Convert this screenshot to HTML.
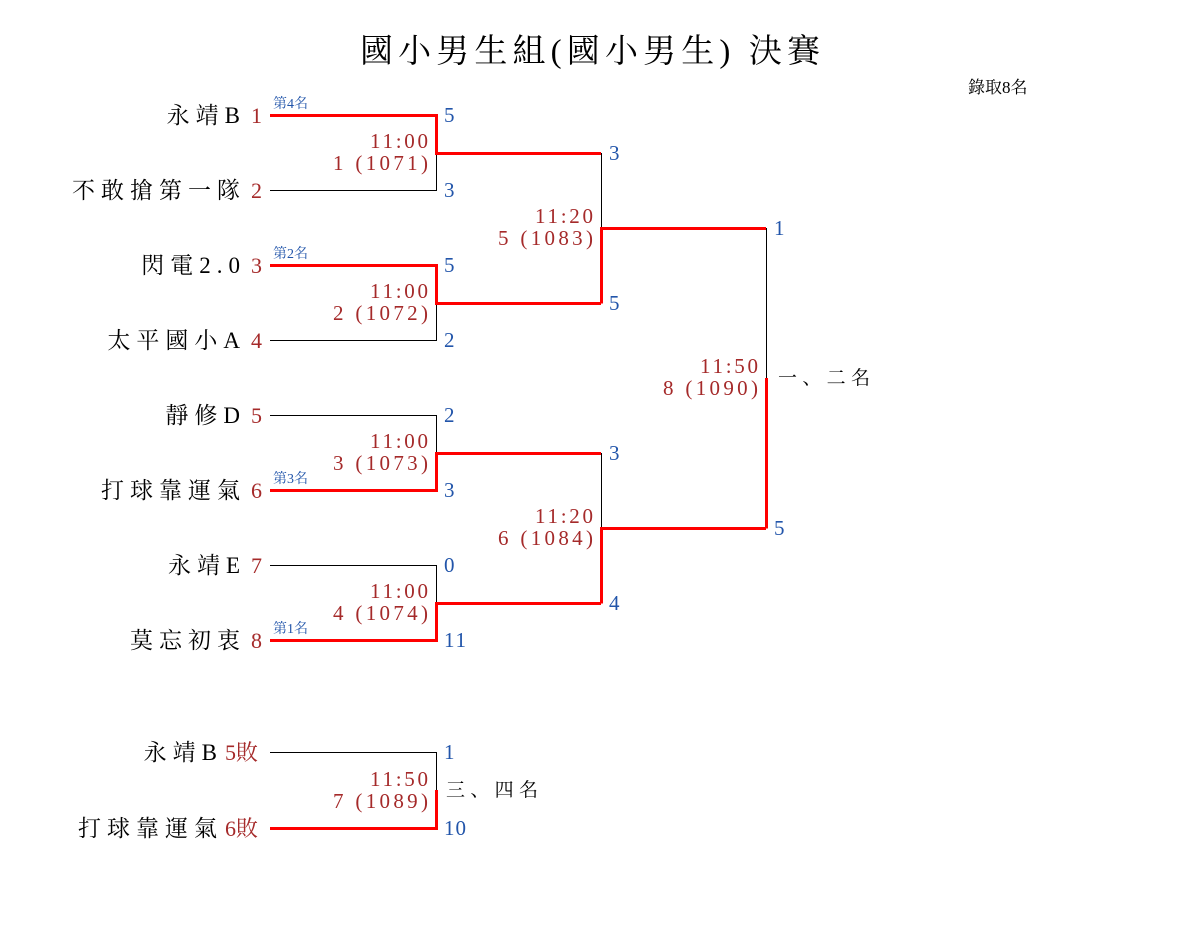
<!DOCTYPE html>
<html><head><meta charset="utf-8"><style>
html,body{margin:0;padding:0;background:#fff;}
svg{display:block;}
text{font-family:"Liberation Serif","Noto Serif CJK SC",serif;}
.n{font-size:23px;fill:#000;text-anchor:end;letter-spacing:6px;}
.s{font-size:22px;fill:#a52a2a;}
.b{font-size:21px;fill:#2255aa;}
.t{font-size:21px;fill:#a52a2a;text-anchor:end;}
.r{font-size:14px;fill:#2255aa;}
.k{stroke:#000;stroke-width:1;fill:none;}
.w{stroke:#f00;stroke-width:3;fill:none;}
</style></head><body>
<svg width="1180" height="950" viewBox="0 0 1180 950" xmlns="http://www.w3.org/2000/svg">
<text x="590" y="62" font-size="33" text-anchor="middle" textLength="460" lengthAdjust="spacing">國小男生組(國小男生) 決賽</text>
<text x="968" y="93" font-size="17">錄取8名</text>

<text class="n" x="246" y="123">永靖B</text><text class="s" x="251" y="123">1</text>
<text class="n" x="246" y="198">不敢搶第一隊</text><text class="s" x="251" y="198">2</text>
<text class="n" x="246" y="273">閃電2.0</text><text class="s" x="251" y="273">3</text>
<text class="n" x="246" y="348">太平國小A</text><text class="s" x="251" y="348">4</text>
<text class="n" x="246" y="423">靜修D</text><text class="s" x="251" y="423">5</text>
<text class="n" x="246" y="498">打球靠運氣</text><text class="s" x="251" y="498">6</text>
<text class="n" x="246" y="573">永靖E</text><text class="s" x="251" y="573">7</text>
<text class="n" x="246" y="648">莫忘初衷</text><text class="s" x="251" y="648">8</text>
<text class="n" x="223" y="760">永靖B</text><text class="s" x="225" y="760" font-size="19">5敗</text>
<text class="n" x="223" y="836">打球靠運氣</text><text class="s" x="225" y="836" font-size="19">6敗</text>

<text class="r" x="273" y="108">第4名</text>
<text class="r" x="273" y="258">第2名</text>
<text class="r" x="273" y="483">第3名</text>
<text class="r" x="273" y="633">第1名</text>

<path class="k" d="M270 190.5H436.5V153"/>
<path class="w" d="M270 115.5H436.5V153.5H601"/>
<path class="k" d="M270 340.5H436.5V303"/>
<path class="w" d="M270 265.5H436.5V303.5H601"/>
<path class="k" d="M270 415.5H436.5V453"/>
<path class="w" d="M270 490.5H436.5V453.5H601"/>
<path class="k" d="M270 565.5H436.5V603"/>
<path class="w" d="M270 640.5H436.5V603.5H601"/>
<path class="k" d="M601.5 153V228"/>
<path class="w" d="M601.5 303.5V228.5H766"/>
<path class="k" d="M601.5 453V528"/>
<path class="w" d="M601.5 603.5V528.5H766"/>
<path class="k" d="M766.5 228V378"/>
<path class="w" d="M766.5 528.5V378"/>
<path class="k" d="M270 752.5H436.5V790"/>
<path class="w" d="M270 828.5H436.5V790"/>

<text class="b" x="444" y="122">5</text>
<text class="b" x="444" y="197">3</text>
<text class="b" x="444" y="272">5</text>
<text class="b" x="444" y="347">2</text>
<text class="b" x="444" y="422">2</text>
<text class="b" x="444" y="497">3</text>
<text class="b" x="444" y="572">0</text>
<text class="b" x="444" y="647" textLength="22">11</text>
<text class="b" x="609" y="160">3</text>
<text class="b" x="609" y="310">5</text>
<text class="b" x="609" y="460">3</text>
<text class="b" x="609" y="610">4</text>
<text class="b" x="774" y="235">1</text>
<text class="b" x="774" y="535">5</text>
<text class="b" x="444" y="759">1</text>
<text class="b" x="444" y="835" textLength="22">10</text>

<text class="t" x="428" y="148" textLength="58">11:00</text><text class="t" x="428" y="170" textLength="95">1 (1071)</text>
<text class="t" x="428" y="298" textLength="58">11:00</text><text class="t" x="428" y="320" textLength="95">2 (1072)</text>
<text class="t" x="428" y="448" textLength="58">11:00</text><text class="t" x="428" y="470" textLength="95">3 (1073)</text>
<text class="t" x="428" y="598" textLength="58">11:00</text><text class="t" x="428" y="620" textLength="95">4 (1074)</text>
<text class="t" x="593" y="223" textLength="58">11:20</text><text class="t" x="593" y="245" textLength="95">5 (1083)</text>
<text class="t" x="593" y="523" textLength="58">11:20</text><text class="t" x="593" y="545" textLength="95">6 (1084)</text>
<text class="t" x="758" y="373" textLength="58">11:50</text><text class="t" x="758" y="395" textLength="95">8 (1090)</text>
<text class="t" x="428" y="786" textLength="58">11:50</text><text class="t" x="428" y="808" textLength="95">7 (1089)</text>

<text x="778" y="384" font-size="19" textLength="92">一、二名</text>
<text x="446" y="796" font-size="19" textLength="92">三、四名</text>
</svg>
</body></html>
